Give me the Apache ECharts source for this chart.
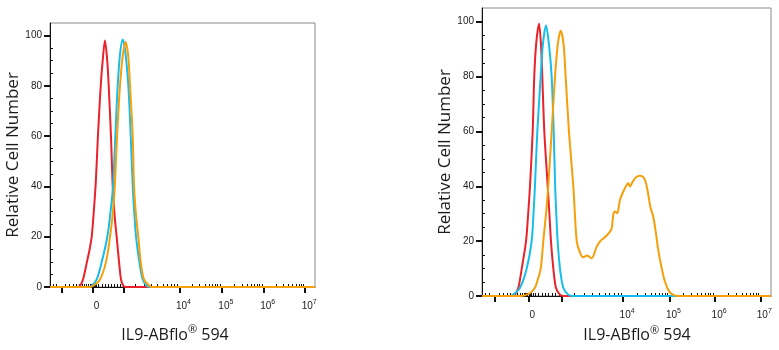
<!DOCTYPE html>
<html><head><meta charset="utf-8">
<script src="https://cdn.jsdelivr.net/npm/echarts@6/dist/echarts.min.js"></script>
<style>html,body{margin:0;padding:0;background:#fff}#c{width:779px;height:350px}</style>
</head><body><div id="c"></div>
<script>
// Fluorescence axis in display channels (0-256) of a logicle (biexponential) scale.
const majorChannels = [11, 41, 71, 125, 166, 206.5, 246.5];      // -10^3, 0, 10^3, 10^4 ... 10^7
const labelChannels = [41, 125, 166, 206.5, 246.5];
const labelTexts = ['0', '10^4', '10^5', '10^6', '10^7'];
const lowMinorChannels = [3, 6, 15, 19, 22, 25, 28, 31, 33.5, 35.5, 37, 38.5, 39.5, 40.5, 41.5, 42.5, 43.5, 45, 47, 50, 53, 56, 59, 62, 65, 68,
  82, 91, 98, 104, 109, 113, 117, 120.5, 123];
const yMajor = [0, 20, 40, 60, 80, 100];

// Histograms: [channel, % of max]
const leftRed = [[0,0],[26,0],[29,0.5],[31.9,3],[35.7,10],[38.3,15],[40.3,20],[42.3,30],[44,40],[45.2,50],[46.3,60],[47.6,70],[49,80],[50.9,90],[53.1,98],[55.3,90],[56.7,80],[58.9,60],[60.6,40],[62.5,28],[64.4,20],[66.7,10],[68.6,3],[70.8,0.5],[73,0],[256,0]];
const leftCyan = [[0,0],[37,0],[40.3,0.5],[45.1,3],[50,10],[55.4,20],[58.5,30],[60.9,40],[62.6,55],[64,68],[65.4,80],[67.5,92],[70.2,98.4],[72.6,94],[75.7,80],[78,60],[79.9,40],[81.5,29],[83.1,20],[86.3,10],[89.6,3],[93.4,0.5],[97,0],[256,0]];
const leftOrange = [[0,0],[38,0],[41.8,0.5],[48.3,3],[54.1,10],[58,20],[60.8,30],[62.6,40],[64.2,55],[65.8,68],[67.6,80],[70.3,92],[73.1,97.5],[75.5,92],[77.3,80],[79.9,60],[81.2,40],[83.2,28],[85.3,20],[87.6,10],[90.8,3],[95.9,0.5],[99,0],[256,0]];

const rightRed = [[0,0],[26,0],[29.2,0.5],[32.2,3],[35.2,10],[39,20],[40.9,30],[42.5,40],[44.9,60],[46.3,80],[48,92],[50.5,99.3],[52.2,92],[53.4,80],[55.2,60],[58.2,40],[59.7,30],[61.1,20],[63.2,10],[65.5,3],[69.1,0.5],[72,0],[256,0]];
const rightCyan = [[0,0],[24,0],[27.7,0.5],[33.7,3],[39.6,10],[44,20],[45.6,30],[46.9,40],[49,60],[52,80],[54,92],[56.7,98.6],[59.2,92],[61.7,80],[63.5,60],[64.8,40],[65.8,30],[67,20],[69.1,10],[72,3],[76.4,0.5],[80,0],[256,0]];
const rightOrange = [[0,0],[35,0],[38.1,0.3],[42.5,1],[46.9,3],[48.7,5],[52,10],[54.3,20],[56.7,30],[58.7,40],[61.7,60],[64.7,80],[67.2,92],[69.7,96.7],[72.2,92],[74.1,80],[77,60],[80.9,40],[83.9,20],[86.8,15.8],[89.7,14.1],[93.2,14.8],[97.1,13.7],[101.6,18],[105.1,20.2],[108.9,21.4],[112.7,23.1],[114.9,24.7],[116.3,29.6],[117.8,30.8],[119.8,30.2],[122.2,35],[125.2,38.1],[128.1,40.5],[129.6,41.1],[131.1,39.9],[133.5,41.7],[136.4,43.3],[139.9,43.8],[142.9,43.3],[145.3,41.1],[147.3,36.9],[149.4,32],[151.7,28.9],[154.1,22.9],[156.1,16.8],[159.2,10.1],[162.1,5.2],[165.9,1.6],[169.4,0.4],[173.9,0],[256,0]];

const colors = { red: '#e8232b', cyan: '#19bde9', orange: '#f59f0a' };

// minor ticks of the log decades 10^4 .. 10^7
const upperMinor = [];
for (let d = 3; d < 6; d++) {
  const a = majorChannels[d], b = majorChannels[d + 1];
  for (let m = 2; m <= 9; m++) upperMinor.push(a + (b - a) * Math.log10(m));
}
const minorChannels = lowMinorChannels.concat(upperMinor);
const yMinor = [];
for (let v = 5; v < 100; v += 5) if (v % 20) yMinor.push(v);

const labelFont = 'Liberation Sans';
function xLabel(v) {
  const i = labelChannels.findIndex(c => Math.abs(c - v) < 0.01);
  if (i < 0) return '';
  const t = labelTexts[i];
  if (t.indexOf('^') < 0) return '{b|' + t + '}';
  const p = t.split('^');
  return '{b|' + p[0] + '}{s|' + p[1] + '}';
}

function axesFor(gridIndex, nameGapX, namePad, nameGapY) {
  const xs = [{
    type: 'value', gridIndex, min: 0, max: 256,
    name: '{t|IL9-ABflo}{r|®}{t| 594}', nameLocation: 'middle', nameGap: nameGapX,
    nameTextStyle: { padding: namePad, rich: {
      t: { fontFamily: 'Open Sans', fontSize: 16, color: '#1a1a1a' },
      r: { fontFamily: 'Open Sans', fontSize: 11, color: '#1a1a1a', verticalAlign: 'top', lineHeight: 22 }
    } },
    axisLine: { show: true, onZero: false, lineStyle: { color: '#111', width: 1 } },
    axisTick: { show: true, customValues: majorChannels, length: 6, lineStyle: { color: '#111', width: 2 } },
    axisLabel: { show: true, customValues: labelChannels, formatter: xLabel, margin: 12, padding: [0, 0, 0, 8],
      rich: {
        b: { fontFamily: labelFont, fontSize: 10, color: '#222', lineHeight: 14 },
        s: { fontFamily: labelFont, fontSize: 7, color: '#222', verticalAlign: 'top', lineHeight: 9 }
      } },
    splitLine: { show: false }
  }, {
    type: 'value', gridIndex, min: 0, max: 256,
    axisLine: { show: false },
    axisTick: { show: true, customValues: minorChannels, length: 3, lineStyle: { color: '#111', width: 1 } },
    axisLabel: { show: false }, splitLine: { show: false }
  }];
  const ys = [{
    type: 'value', gridIndex, min: 0, max: 105,
    name: 'Relative Cell Number', nameLocation: 'middle', nameGap: nameGapY,
    nameTextStyle: { fontFamily: 'Open Sans', fontSize: 17, color: '#1a1a1a' },
    axisLine: { show: true, lineStyle: { color: '#111', width: 1 } },
    axisTick: { show: true, customValues: yMajor, length: 6, lineStyle: { color: '#111', width: 2 } },
    axisLabel: { show: true, customValues: yMajor, fontFamily: labelFont, fontSize: 10, color: '#222', margin: 8 },
    splitLine: { show: false }
  }, {
    type: 'value', gridIndex, min: 0, max: 105,
    axisLine: { show: false },
    axisTick: { show: true, customValues: yMinor, length: 3, lineStyle: { color: '#111', width: 1 } },
    axisLabel: { show: false }, splitLine: { show: false }
  }];
  return { xs, ys };
}

const L = axesFor(0, 37, [0, 15, 0, 0], 21);
const R = axesFor(1, 22, [0, 0, 0, 21], 26);

function line(data, color, xi, yi) {
  return { type: 'line', data, xAxisIndex: xi, yAxisIndex: yi, showSymbol: false, symbol: 'none',
    smooth: 0.3, lineStyle: { color, width: 2 }, itemStyle: { color }, silent: true, animation: false, z: 3 };
}

const chart = echarts.init(document.getElementById('c'), null, { renderer: 'canvas' });
chart.setOption({
  animation: false,
  backgroundColor: '#fff',
  grid: [
    { left: 50, top: 23, width: 265, height: 264, show: true, borderColor: '#8a8a8a', borderWidth: 1, backgroundColor: 'transparent' },
    { left: 482, top: 8, width: 289, height: 288, show: true, borderColor: '#8a8a8a', borderWidth: 1, backgroundColor: 'transparent' }
  ],
  xAxis: L.xs.concat(R.xs),
  yAxis: L.ys.concat(R.ys),
  series: [
    line(leftRed, colors.red, 0, 0),
    line(leftCyan, colors.cyan, 0, 0),
    line(leftOrange, colors.orange, 0, 0),
    line(rightRed, colors.red, 2, 2),
    line(rightCyan, colors.cyan, 2, 2),
    line(rightOrange, colors.orange, 2, 2)
  ]
});
</script></body></html>
